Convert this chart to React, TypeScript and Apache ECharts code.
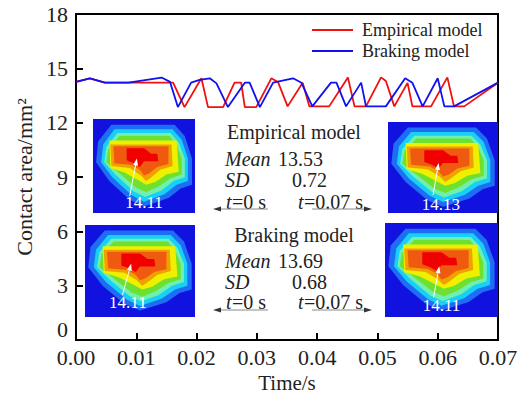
import React, { useEffect, useRef } from 'react';
import * as echarts from 'echarts';

const FONT = '"Liberation Serif", "Times New Roman", serif';

// ---- data ----
const seriesNames = ['Empirical model', 'Braking model'];

const empiricalTime = [0, 0.0023, 0.0048, 0.0161, 0.018, 0.0208, 0.0219, 0.0244, 0.0263, 0.0274, 0.028, 0.0299, 0.0324, 0.0335, 0.0351, 0.0376, 0.0387, 0.042, 0.0451, 0.0462, 0.0481, 0.0506, 0.0514, 0.0528, 0.055, 0.0558, 0.0589, 0.0616, 0.0627, 0.0644, 0.07];
const empiricalArea = [14.25, 14.45, 14.21, 14.21, 12.86, 14.45, 12.86, 12.86, 14.21, 14.21, 12.86, 12.86, 14.45, 14.25, 12.9, 14.2, 12.9, 12.9, 14.5, 12.9, 12.9, 14.5, 14.3, 12.9, 14.2, 12.9, 12.9, 14.5, 12.9, 12.9, 14.21];

const brakingTime = [0, 0.0023, 0.0048, 0.0087, 0.0142, 0.0156, 0.0169, 0.0191, 0.0205, 0.0222, 0.0233, 0.0252, 0.028, 0.0288, 0.0305, 0.0327, 0.036, 0.0374, 0.0392, 0.0423, 0.0432, 0.0448, 0.0473, 0.0481, 0.0514, 0.0546, 0.0558, 0.0575, 0.06, 0.0611, 0.0627, 0.07];
const brakingArea = [14.25, 14.45, 14.21, 14.21, 14.49, 14.25, 12.86, 14.21, 14.36, 14.45, 14.17, 12.86, 14.21, 14.21, 12.86, 14.21, 14.45, 14.2, 12.9, 14.21, 14.21, 12.9, 14.21, 12.9, 12.9, 14.45, 14.2, 12.9, 14.45, 12.9, 12.9, 14.21];

const xTicks = { min: 0, max: 0.07, interval: 0.01 };
const yTicks = { min: 0, max: 18, interval: 3 };

const empiricalStats = { title: 'Empirical model', mean: '13.53', sd: '0.72' };
const brakingStats = { title: 'Braking model', mean: '13.69', sd: '0.68' };
const peakLabels = ['14.11', '14.13', '14.11', '14.11'];

// ---- contour inset template (100x100 local units) ----
const contourLayers: [string, number[][]][] = [
  ['#1e6ef5', [[18, 6], [80, 6], [90, 18], [97, 42], [97, 70], [86, 74], [74, 84], [50, 93], [36, 86], [16, 66], [3, 46], [5, 24]]],
  ['#18d0f5', [[21, 11], [78, 11], [87, 22], [93, 42], [93, 66], [82, 70], [70, 80], [50, 88], [38, 81], [19, 62], [8, 46], [10, 27]]],
  ['#70f0b0', [[24, 15], [76, 15], [84, 25], [90, 42], [90, 62], [79, 66], [67, 76], [51, 83], [40, 77], [22, 59], [11, 46], [13, 30]]],
  ['#6ee030', [[26, 18], [75, 18], [82, 28], [87, 42], [87, 59], [76, 63], [64, 72], [52, 78], [42, 73], [25, 57], [13, 46], [15, 32]]],
  ['#eef000', [[16, 23], [82, 23], [84, 56], [72, 59], [61, 67], [52, 70], [44, 65], [31, 57], [17, 52]]],
  ['#f0a000', [[17, 27], [77, 27], [78, 50], [66, 54], [56, 63], [52, 66], [47, 60], [36, 52], [18, 50]]],
  ['#f05a10', [[20, 29], [74, 29], [74, 48], [63, 51], [55, 58], [50, 60], [46, 54], [38, 49], [21, 47]]],
  ['#f00000', [[33, 31], [50, 31], [57, 37], [63, 37], [64, 45], [50, 45], [46, 51], [40, 47], [33, 44]]],
];

function panel(x: number, y: number, w: number, h: number, label: string, lx: number, ly: number, a1: number[], a2: number[]) {
  const sx = w / 100, sy = h / 100;
  const children: any[] = [
    { type: 'rect', shape: { x: 0, y: 0, width: w, height: h }, style: { fill: '#1212e0' } },
  ];
  contourLayers.forEach(([c, pts]) => {
    children.push({ type: 'polygon', shape: { points: pts.map(([px, py]) => [px * sx, py * sy]) }, style: { fill: c } });
  });
  const x1 = a1[0] * sx, y1 = a1[1] * sy, x2 = a2[0] * sx, y2 = a2[1] * sy;
  const dx = x2 - x1, dy = y2 - y1, L = Math.hypot(dx, dy);
  const ux = dx / L, uy = dy / L;
  children.push({ type: 'line', shape: { x1, y1, x2: x2 - ux * 4, y2: y2 - uy * 4 }, style: { stroke: '#ffffff', lineWidth: 1 } });
  children.push({
    type: 'polygon',
    shape: { points: [[x2, y2], [x2 - ux * 7 - uy * 2.5, y2 - uy * 7 + ux * 2.5], [x2 - ux * 7 + uy * 2.5, y2 - uy * 7 - ux * 2.5]] },
    style: { fill: '#ffffff' },
  });
  children.push({
    type: 'text',
    style: { text: label, x: lx * sx, y: ly * sy, fill: '#ffffff', font: `17px ${FONT}`, align: 'center', verticalAlign: 'middle', textAlign: 'center', textVerticalAlign: 'middle' },
  });
  return { type: 'group', x, y, children };
}

function txt(text: string, x: number, y: number, opts: any = {}) {
  return {
    type: 'text',
    style: {
      text, x, y, fill: '#222', font: `${opts.italic ? 'italic ' : ''}20px ${FONT}`,
      align: opts.align || 'left', verticalAlign: 'middle', textAlign: opts.align || 'left', textVerticalAlign: 'middle',
    },
  };
}

function arrow(xFrom: number, xTo: number, y: number) {
  const dir = xTo > xFrom ? 1 : -1;
  return [
    { type: 'line', shape: { x1: xFrom, y1: y, x2: xTo - dir * 5, y2: y }, style: { stroke: '#8a8a8a', lineWidth: 1.2 } },
    { type: 'polygon', shape: { points: [[xTo, y], [xTo - dir * 8, y - 2.5], [xTo - dir * 8, y + 2.5]] }, style: { fill: '#333' } },
  ];
}

function statsBlock(s: { title: string; mean: string; sd: string }, yTitle: number, yMean: number, ySd: number, yT: number, yArrow: number) {
  return [
    txt(s.title, 294, yTitle, { align: 'center' }),
    txt('Mean', 225, yMean, { italic: true }),
    txt(s.mean, 278, yMean),
    txt('SD', 225, ySd, { italic: true }),
    txt(s.sd, 292, ySd),
    txt('t', 226, yT, { italic: true }),
    txt('=0 s', 232, yT),
    txt('t', 298, yT, { italic: true }),
    txt('=0.07 s', 304, yT),
    ...arrow(268, 213, yArrow),
    ...arrow(312, 372, yArrow),
  ];
}

export default function App() {
  const ref = useRef<HTMLDivElement>(null);
  useEffect(() => {
    if (!ref.current) return;
    const chart = echarts.init(ref.current, undefined, { renderer: 'svg' });
    const empData = empiricalTime.map((t, i) => [t, empiricalArea[i]]);
    const brkData = brakingTime.map((t, i) => [t, brakingArea[i]]);
    chart.setOption({
      animation: false,
      backgroundColor: '#ffffff',
      grid: { left: 76, right: 32, top: 14, bottom: 62, show: true, borderColor: '#000', borderWidth: 2, backgroundColor: 'transparent' },
      legend: {
        data: seriesNames,
        orient: 'vertical',
        left: 312,
        top: 21,
        padding: 0,
        itemWidth: 41,
        itemHeight: 2,
        itemGap: 3,
        icon: 'rect',
        textStyle: { fontFamily: FONT, fontSize: 18, color: '#222', padding: [0, 0, 0, 4] },
      },
      xAxis: {
        type: 'value',
        min: xTicks.min, max: xTicks.max, interval: xTicks.interval,
        name: 'Time/s', nameLocation: 'middle', nameGap: 32,
        nameTextStyle: { fontFamily: FONT, fontSize: 21, color: '#222' },
        axisLine: { show: true, onZero: false, lineStyle: { color: '#000', width: 2 } },
        axisTick: { show: true, inside: true, length: 7, lineStyle: { color: '#000', width: 2 } },
        axisLabel: { fontFamily: FONT, fontSize: 22, color: '#222', margin: 6, formatter: (v: number) => v.toFixed(2) },
        splitLine: { show: false },
      },
      yAxis: {
        type: 'value',
        min: yTicks.min, max: yTicks.max, interval: yTicks.interval,
        name: 'Contact area/mm²', nameLocation: 'middle', nameGap: 40,
        nameTextStyle: { fontFamily: FONT, fontSize: 22, color: '#222' },
        axisLine: { show: true, onZero: false, lineStyle: { color: '#000', width: 2 } },
        axisTick: { show: true, inside: true, length: 7, lineStyle: { color: '#000', width: 2 } },
        axisLabel: {
          fontFamily: FONT, fontSize: 22, color: '#222', margin: 8,
          formatter: (v: number) => (v === 0 ? '{z|0}' : String(v)),
          rich: { z: { fontFamily: FONT, fontSize: 22, color: '#222', padding: [0, 0, 22, 0] } },
        },
        splitLine: { show: false },
      },
      series: [
        { name: seriesNames[0], type: 'line', data: empData, showSymbol: false, symbol: 'none', lineStyle: { color: '#f01010', width: 1.8 }, itemStyle: { color: '#f01010' }, z: 2 },
        { name: seriesNames[1], type: 'line', data: brkData, showSymbol: false, symbol: 'none', lineStyle: { color: '#1010f0', width: 1.8 }, itemStyle: { color: '#1010f0' }, z: 3 },
      ],
      graphic: [
        panel(93, 119, 102, 94, peakLabels[0], 50, 89, [36, 82], [43, 42]),
        panel(388, 122, 110, 91, peakLabels[1], 48, 91, [41, 80], [46, 45]),
        panel(85, 225, 110, 92, peakLabels[2], 39, 84, [34, 76], [42, 42]),
        panel(385, 223, 113, 94, peakLabels[3], 50, 88, [43, 79], [48, 46]),
        ...statsBlock(empiricalStats, 132, 159, 180, 202, 209),
        ...statsBlock(brakingStats, 235, 261, 282, 302, 310),
      ],
    });
    return () => chart.dispose();
  }, []);
  return <div ref={ref} style={{ position: 'fixed', left: 0, top: 0, width: 530, height: 402 }} />;
}
